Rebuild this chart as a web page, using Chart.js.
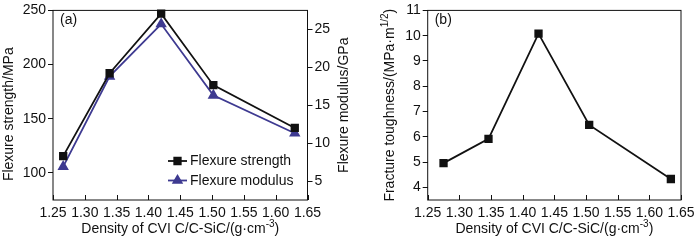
<!DOCTYPE html>
<html lang="en">
<head>
<meta charset="UTF-8">
<title>CVI C/C-SiC properties</title>
<script src="https://cdn.jsdelivr.net/npm/chart.js"></script>
<style>
  body { margin: 0; background: #fff; }
  #wrap { position: relative; width: 700px; height: 240px; }
  .panel { position: absolute; top: 0; height: 240px; }
</style>
</head>
<body>
<div id="wrap">
  <div class="panel" style="left:0;width:360px"><canvas id="chartA"></canvas></div>
  <div class="panel" style="left:360px;width:340px"><canvas id="chartB"></canvas></div>
</div>
<script>
// panel (a)
const densityA = [1.266, 1.339, 1.420, 1.502, 1.630];
const strength = [115.5, 192, 247, 181, 141.5];
const modulus = [6.9, 18.8, 25.7, 16.3, 11.3];
// panel (b)
const densityB = [1.275, 1.346, 1.425, 1.505, 1.634];
const toughness = [4.96, 5.92, 10.08, 6.47, 4.33];

const xTicks = [1.25, 1.30, 1.35, 1.40, 1.45, 1.50, 1.55, 1.60, 1.65];
const strengthTicks = [100, 150, 200, 250];
const modulusTicks = [5, 10, 15, 20, 25];
const toughTicks = [4, 5, 6, 7, 8, 9, 10, 11];

const FONT = '"Liberation Sans", Arial, sans-serif';
const PURPLE = '#3e3a91';

Chart.defaults.font.family = FONT;
Chart.defaults.color = '#111';

function pts(xs, ys) {
  return xs.map((x, i) => ({ x: x, y: ys[i] }));
}

function fixTicks(list) {
  return scale => { scale.ticks = list.map(v => ({ value: v })); };
}

// draws text made of parts, some of them superscript, centred on (x, y)
function richText(ctx, parts, x, y, rot) {
  ctx.save();
  ctx.translate(x, y);
  ctx.rotate(rot || 0);
  ctx.textBaseline = 'middle';
  ctx.textAlign = 'left';
  let total = 0;
  parts.forEach(p => {
    ctx.font = (p.sup ? '10px ' : '14px ') + FONT;
    total += ctx.measureText(p.t).width;
  });
  let cx = -total / 2;
  parts.forEach(p => {
    ctx.font = (p.sup ? '10px ' : '14px ') + FONT;
    ctx.fillStyle = '#111';
    ctx.fillText(p.t, cx, p.sup ? -5 : 0);
    cx += ctx.measureText(p.t).width;
  });
  ctx.restore();
}

const framePlugin = {
  id: 'frame',
  afterDatasetsDraw(chart, args, opts) {
    const ctx = chart.ctx;
    const a = chart.chartArea;
    ctx.save();
    ctx.strokeStyle = '#111';
    ctx.lineWidth = 1;
    ctx.strokeRect(a.left, a.top, a.right - a.left, a.bottom - a.top);
    // inward ticks on the x axis
    const xs = chart.scales.x;
    ctx.beginPath();
    xTicks.forEach(v => {
      const px = Math.round(xs.getPixelForValue(v)) + 0.5;
      ctx.moveTo(px, a.bottom);
      ctx.lineTo(px, a.bottom - 5);
    });
    ctx.stroke();
    // panel letter
    ctx.font = '14px ' + FONT;
    ctx.fillStyle = '#111';
    ctx.textBaseline = 'middle';
    ctx.fillText(opts.letter, a.left + 7, a.top + 10);
    // axis titles
    const midX = (a.left + a.right) / 2;
    const midY = (a.top + a.bottom) / 2;
    richText(ctx, [{ t: 'Density of CVI C/C-SiC/(g·cm' }, { t: '-3', sup: true }, { t: ')' }], midX, 229, 0);
    (opts.titles || []).forEach(t => richText(ctx, t.parts, t.x, midY + (t.dy || 0), -Math.PI / 2));
    ctx.restore();
  }
};

const legendPlugin = {
  id: 'innerLegend',
  afterDatasetsDraw(chart, args, opts) {
    if (!opts.show) return;
    const ctx = chart.ctx;
    const a = chart.chartArea;
    const x0 = a.left + 115;
    chart.data.datasets.forEach((ds, i) => {
      const y = a.bottom - 39 + i * 19.5;
      ctx.save();
      ctx.strokeStyle = ds.borderColor;
      ctx.lineWidth = 1.8;
      ctx.beginPath();
      ctx.moveTo(x0, y);
      ctx.lineTo(x0 + 19, y);
      ctx.stroke();
      Chart.helpers.drawPoint(ctx, {
        pointStyle: ds.pointStyle, radius: ds.pointRadius, borderWidth: 1
      }, x0 + 9.5, y);
      ctx.fillStyle = ds.pointBackgroundColor;
      ctx.strokeStyle = ds.borderColor;
      ctx.fill();
      ctx.font = '14px ' + FONT;
      ctx.fillStyle = '#111';
      ctx.textBaseline = 'middle';
      ctx.fillText(ds.label, x0 + 22, y + 0.5);
      ctx.restore();
    });
  }
};

function xScale() {
  return {
    type: 'linear',
    position: 'bottom',
    min: 1.25,
    max: 1.65,
    afterBuildTicks: fixTicks(xTicks),
    afterFit: s => { s.height = 40; },
    grid: { display: false, drawTicks: false },
    border: { display: false },
    ticks: { font: { size: 14 }, padding: 5, maxRotation: 0, autoSkip: false,
      callback: v => Number(v).toFixed(2) }
  };
}

function yScale(pos, min, max, list, width) {
  return {
    type: 'linear',
    position: pos,
    min: min,
    max: max,
    afterBuildTicks: fixTicks(list),
    afterFit: s => { s.width = width; },
    grid: { drawOnChartArea: false, drawTicks: true, tickLength: 5, color: '#111', tickWidth: 1 },
    border: { display: false },
    ticks: { font: { size: 14 }, padding: 2 }
  };
}

new Chart(document.getElementById('chartA'), {
  type: 'line',
  data: {
    datasets: [{
      label: 'Flexure strength',
      data: pts(densityA, strength),
      yAxisID: 'y',
      borderColor: '#111',
      borderWidth: 1.8,
      pointStyle: 'rect',
      pointRadius: 4.6,
      pointBackgroundColor: '#111',
      pointBorderColor: '#111',
      clip: false
    }, {
      label: 'Flexure modulus',
      data: pts(densityA, modulus),
      yAxisID: 'y1',
      borderColor: PURPLE,
      borderWidth: 1.8,
      pointStyle: 'triangle',
      pointRadius: 4.8,
      pointBackgroundColor: PURPLE,
      pointBorderColor: PURPLE,
      clip: false
    }]
  },
  options: {
    responsive: true,
    maintainAspectRatio: false,
    animation: false,
    layout: { padding: { top: 7, left: 0, right: 0, bottom: 0 } },
    scales: {
      x: xScale(),
      y: yScale('left', 75, 250, strengthTicks, 53),
      y1: yScale('right', 2.5, 27.5, modulusTicks, 52.5)
    },
    plugins: {
      legend: { display: false },
      tooltip: { enabled: false },
      frame: {
        letter: '(a)',
        titles: [
          { parts: [{ t: 'Flexure strength/MPa' }], x: 9.5, dy: 9 },
          { parts: [{ t: 'Flexure modulus/GPa' }], x: 344, dy: 0 }
        ]
      },
      innerLegend: { show: true }
    }
  },
  plugins: [framePlugin, legendPlugin]
});

new Chart(document.getElementById('chartB'), {
  type: 'line',
  data: {
    datasets: [{
      label: 'Fracture toughness',
      data: pts(densityB, toughness),
      borderColor: '#111',
      borderWidth: 1.8,
      pointStyle: 'rect',
      pointRadius: 4.6,
      pointBackgroundColor: '#111',
      pointBorderColor: '#111',
      clip: false
    }]
  },
  options: {
    responsive: true,
    maintainAspectRatio: false,
    animation: false,
    layout: { padding: { top: 7, left: 0, right: 19, bottom: 0 } },
    scales: {
      x: xScale(),
      y: yScale('left', 3.5, 11, toughTicks, 67.7)
    },
    plugins: {
      legend: { display: false },
      tooltip: { enabled: false },
      frame: {
        letter: '(b)',
        titles: [
          { parts: [{ t: 'Fracture toughness/(MPa·m' }, { t: '1/2', sup: true }, { t: ')' }], x: 30, dy: 0 }
        ]
      },
      innerLegend: { show: false }
    }
  },
  plugins: [framePlugin, legendPlugin]
});
</script>
</body>
</html>
